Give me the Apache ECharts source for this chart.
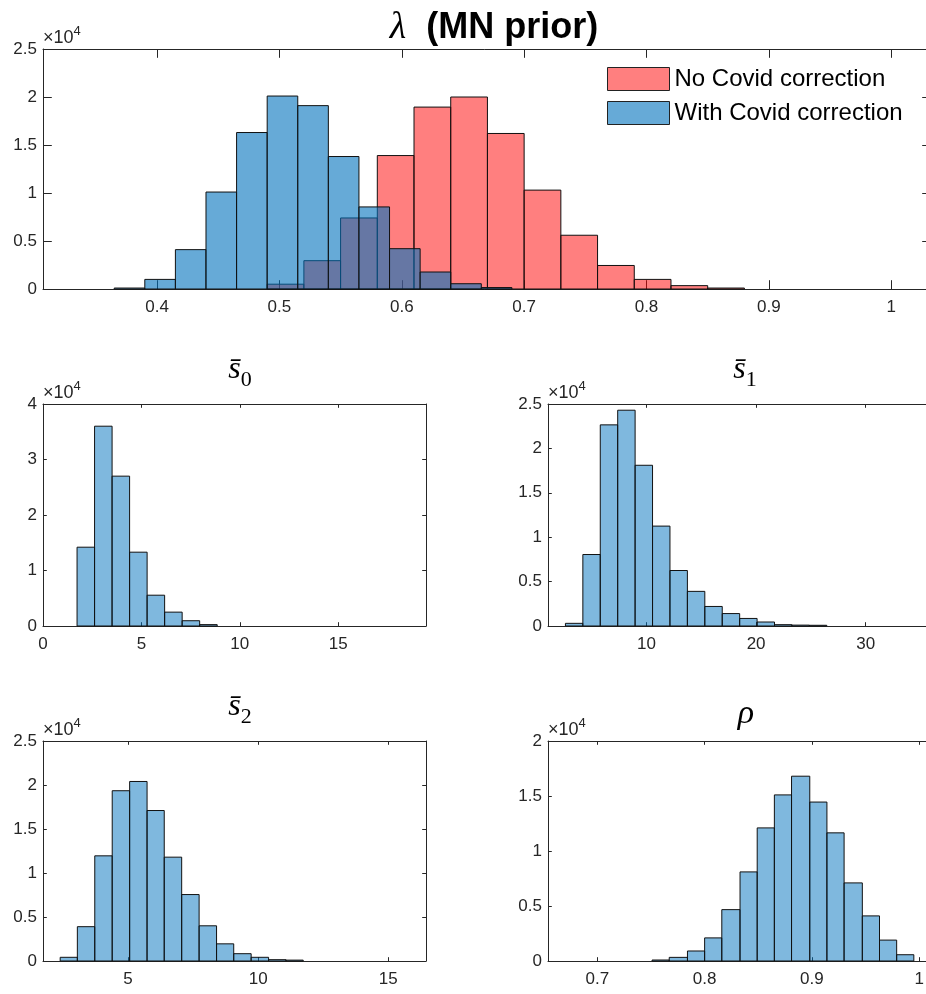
<!DOCTYPE html>
<html>
<head>
<meta charset="utf-8">
<title>Posterior histograms</title>
<script src="https://cdn.jsdelivr.net/npm/echarts@6.0.0/dist/echarts.min.js"></script>
<style>
  html, body { margin: 0; padding: 0; background: #fff; }
  #chart { width: 926px; height: 994px; }
</style>
</head>
<body>
<div id="chart"></div>
<script>
  // lambda, two estimations (bin edges + counts)
  const lamNoEdges = [0.490, 0.520, 0.550, 0.580, 0.610, 0.640, 0.670, 0.700, 0.730, 0.760, 0.790, 0.820, 0.850, 0.880]
  const lamNoCounts = [500, 2950, 7400, 13900, 18950, 20000, 16200, 10300, 5600, 2450, 1000, 350, 100]
  const lamWithEdges = [0.365, 0.390, 0.415, 0.440, 0.465, 0.490, 0.515, 0.540, 0.565, 0.590, 0.615, 0.640, 0.665, 0.690]
  const lamWithCounts = [100, 1000, 4100, 10100, 16300, 20100, 19100, 13800, 8550, 4200, 1770, 550, 150]
  const lamTicks = [0.4, 0.5, 0.6, 0.7, 0.8, 0.9, 1]

  // s0
  const s0Edges = [1.73, 2.62, 3.51, 4.40, 5.29, 6.18, 7.07, 7.96, 8.85]
  const s0Counts = [14200, 36000, 27000, 13300, 5550, 2500, 950, 250]
  const s0Ticks = [0, 5, 10, 15]

  // s1
  const s1Edges = [2.60, 4.19, 5.78, 7.37, 8.96, 10.55, 12.14, 13.73, 15.32, 16.91, 18.50, 20.09, 21.68, 23.27, 24.86, 26.45]
  const s1Counts = [300, 8050, 22650, 24300, 18100, 11250, 6250, 3900, 2200, 1400, 850, 450, 150, 100, 80]
  const s1Ticks = [10, 20, 30]

  // s2
  const s2Edges = [2.39, 3.05, 3.72, 4.39, 5.06, 5.73, 6.39, 7.06, 7.73, 8.40, 9.06, 9.73, 10.40, 11.07, 11.73]
  const s2Counts = [420, 3900, 11950, 19350, 20400, 17100, 11800, 7550, 4000, 1950, 830, 420, 150, 100]
  const s2Ticks = [5, 10, 15]

  // rho
  const rhoEdges = [0.751, 0.767, 0.784, 0.800, 0.816, 0.833, 0.849, 0.865, 0.881, 0.898, 0.914, 0.930, 0.947, 0.963, 0.979, 0.995]
  const rhoCounts = [90, 330, 910, 2100, 4670, 8100, 12100, 15100, 16800, 14450, 11650, 7100, 4100, 1900, 570]
  const rhoTicks = [0.7, 0.8, 0.9, 1]

  const AXIS = '#262626'
  const FONT = '"Liberation Sans", Arial, Helvetica, sans-serif'
  const SERIF = '"Liberation Serif", "DejaVu Serif", serif'

  const chart = echarts.init(document.getElementById('chart'))

  const grid = []
  const xAxis = []
  const yAxis = []
  const series = []

  // turn edges + counts into [x0, x1, count]
  const toBins = (edges, counts) => counts.map((c, i) => [edges[i], edges[i + 1], c])

  const renderBin = (params, api) => {
    const p0 = api.coord([api.value(0), api.value(2)])
    const p1 = api.coord([api.value(1), 0])
    return {
      type: 'rect',
      shape: { x: p0[0], y: p0[1], width: p1[0] - p0[0], height: p1[1] - p0[1] },
      style: { fill: api.visual('color'), stroke: '#111', lineWidth: 1 }
    }
  }

  // one MATLAB-like boxed axes
  const addPanel = (p) => {
    const g = grid.length
    grid.push({ left: p.left, top: p.top, width: p.width, height: p.height, outerBoundsMode: 'none' })
    const tick = { show: true, inside: true, length: p.tick, lineStyle: { color: AXIS } }
    const line = { show: true, onZero: false, lineStyle: { color: AXIS, width: 1 } }
    xAxis.push({
      type: 'value', gridIndex: g, position: 'bottom', min: p.xMin, max: p.xMax,
      axisLine: line, splitLine: { show: false },
      axisTick: { ...tick, customValues: p.xTicks },
      axisLabel: { customValues: p.xTicks, color: AXIS, fontSize: 17, fontFamily: FONT, margin: 10,
        formatter: (v) => String(v) }
    })
    xAxis.push({
      type: 'value', gridIndex: g, position: 'top', min: p.xMin, max: p.xMax,
      axisLine: line, splitLine: { show: false },
      axisTick: { ...tick, customValues: p.xTicks },
      axisLabel: { show: false }
    })
    yAxis.push({
      type: 'value', gridIndex: g, position: 'left', min: 0, max: p.yMax, interval: p.yStep,
      axisLine: line, splitLine: { show: false }, axisTick: tick,
      axisLabel: { color: AXIS, fontSize: 17, fontFamily: FONT, margin: 6,
        formatter: (v) => String(v / 10000) },
      name: '{a|×10}{b|4}', nameLocation: 'end', nameGap: 2,
      nameTextStyle: {
        align: 'left', verticalAlign: 'bottom', color: AXIS, fontFamily: FONT,
        rich: {
          a: { fontSize: 18, color: AXIS, fontFamily: FONT, verticalAlign: 'bottom' },
          b: { fontSize: 13, color: AXIS, fontFamily: FONT, verticalAlign: 'bottom', padding: [0, 0, 9, 0] }
        }
      }
    })
    yAxis.push({
      type: 'value', gridIndex: g, position: 'right', min: 0, max: p.yMax, interval: p.yStep,
      axisLine: line, splitLine: { show: false }, axisTick: tick, axisLabel: { show: false }
    })
    return g * 2
  }

  const histSeries = (name, idx, bins, color) => ({
    name: name,
    type: 'custom',
    xAxisIndex: idx,
    yAxisIndex: idx,
    renderItem: renderBin,
    itemStyle: { color: color, borderColor: '#000', borderWidth: 1 },
    encode: { x: [0, 1], y: 2 },
    data: bins,
    silent: true
  })

  // panels
  let idx = addPanel({ left: 43, top: 49, width: 888, height: 240, tick: 8.8,
    xMin: 0.3068, xMax: 1.0325, xTicks: lamTicks, yMax: 25000, yStep: 5000 })
  series.push(histSeries('No Covid correction', idx, toBins(lamNoEdges, lamNoCounts), 'rgba(255,0,0,0.5)'))
  series.push(histSeries('With Covid correction', idx, toBins(lamWithEdges, lamWithCounts), 'rgba(0,114,189,0.6)'))

  const blue = 'rgba(0,114,189,0.5)'
  idx = addPanel({ left: 43, top: 404, width: 383, height: 222, tick: 3.8,
    xMin: 0, xMax: 19.46, xTicks: s0Ticks, yMax: 40000, yStep: 10000 })
  series.push(histSeries('s0', idx, toBins(s0Edges, s0Counts), blue))

  idx = addPanel({ left: 548, top: 404, width: 383, height: 222, tick: 3.8,
    xMin: 1.01, xMax: 35.96, xTicks: s1Ticks, yMax: 25000, yStep: 5000 })
  series.push(histSeries('s1', idx, toBins(s1Edges, s1Counts), blue))

  idx = addPanel({ left: 43, top: 741, width: 383, height: 220, tick: 3.8,
    xMin: 1.73, xMax: 16.45, xTicks: s2Ticks, yMax: 25000, yStep: 5000 })
  series.push(histSeries('s2', idx, toBins(s2Edges, s2Counts), blue))

  idx = addPanel({ left: 548, top: 741, width: 383, height: 220, tick: 3.8,
    xMin: 0.654, xMax: 1.011, xTicks: rhoTicks, yMax: 20000, yStep: 5000 })
  series.push(histSeries('rho', idx, toBins(rhoEdges, rhoCounts), blue))

  // s-bar titles with subscript
  const sTitle = (sub, left, top) => ({
    text: '{s|s\u0304}{n|' + sub + '}',
    left: left, top: top, textAlign: 'center',
    textStyle: {
      fontWeight: 'normal',
      rich: {
        s: { fontFamily: SERIF, fontStyle: 'italic', fontWeight: 'normal', fontSize: 32, color: '#000', verticalAlign: 'top' },
        n: { fontFamily: SERIF, fontWeight: 'normal', fontSize: 22, color: '#000', verticalAlign: 'top', padding: [15, 0, 0, 0] }
      }
    }
  })

  const options = {
    animation: false,
    backgroundColor: '#fff',
    title: [
      {
        text: '{l|λ}{t|  (MN prior)}',
        left: 489, top: 4, textAlign: 'center',
        textStyle: {
          rich: {
            l: { fontFamily: SERIF, fontStyle: 'italic', fontWeight: 'normal', fontSize: 38, color: '#000' },
            t: { fontFamily: FONT, fontWeight: 'bold', fontSize: 36, color: '#000' }
          }
        }
      },
      sTitle('0', 235, 349),
      sTitle('1', 740, 349),
      sTitle('2', 235, 686),
      {
        text: 'ρ', left: 741, top: 692, textAlign: 'center',
        textStyle: { fontFamily: SERIF, fontStyle: 'italic', fontSize: 34, fontWeight: 'normal', color: '#000' }
      }
    ],
    legend: {
      data: ['No Covid correction', 'With Covid correction'],
      orient: 'vertical',
      left: 607, top: 67,
      padding: 0,
      icon: 'rect',
      itemWidth: 62, itemHeight: 23, itemGap: 10,
      selectedMode: false,
      itemStyle: { borderWidth: 1, borderColor: '#222' },
      textStyle: { fontSize: 24, color: '#000', fontFamily: FONT }
    },
    grid: grid,
    xAxis: xAxis,
    yAxis: yAxis,
    series: series
  }

  chart.setOption(options)
</script>
</body>
</html>
